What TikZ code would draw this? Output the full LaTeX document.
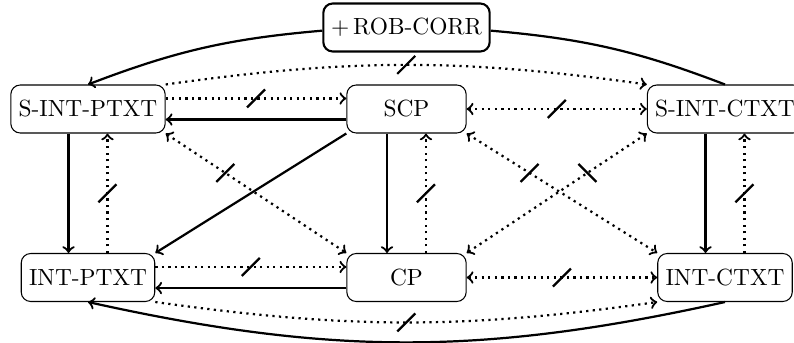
\documentclass[tikz,border=0pt]{standalone}
\usetikzlibrary{calc}
\newcommand\cutfw[1]{\draw[cutmark] ($(#1)+(-9,9)$) -- ($(#1)+(9,-9)$);}
\newcommand\cutbw[1]{\draw[cutmark] ($(#1)+(-9,-9)$) -- ($(#1)+(9,9)$);}
\begin{document}
\begin{tikzpicture}[x=0.4274pt,y=-0.4274pt,
  box/.style={draw, line width=0.45pt, rounded corners=4pt, minimum height=20.5pt, inner sep=3.33pt},
  wide/.style={minimum width=51pt},
  lw/.style={line width=0.95pt},
  dots/.style={lw, dash pattern=on \pgflinewidth off 1.85pt},
  conn/.style={lw,->},
  plain/.style={lw},
  dconn/.style={dots,->},
  ddconn/.style={dots,<->},
  cutmark/.style={lw,solid}]
\useasboundingbox (0,0) rectangle (794,343);
% nodes
\node[box,line width=0.9pt] (rob) at (406.5,27.5) {$+$\,ROB-CORR};
\node[box] (sptxt) at (88,109) {S-INT-PTXT};
\node[box,wide] (scp) at (406.5,109) {SCP};
\node[box] (sctxt) at (725,109) {S-INT-CTXT};
\node[box] (iptxt) at (88,277.5) {INT-PTXT};
\node[box,wide] (cp) at (406.5,277.5) {CP};
\node[box] (ictxt) at (725,277.5) {INT-CTXT};
% top curves
\draw[conn] (rob) to[bend right=8] (sptxt.north);
\draw[plain] (rob) to[bend left=8] (sctxt.north);
\draw[dconn] (sptxt.north east) to[bend left=8] coordinate[pos=.5] (c1) (sctxt.north west);
\cutfw{c1}
% top row
\draw[dconn] ([yshift=4.5pt]sptxt.east) -- coordinate[pos=.5] (c2) ([yshift=4.5pt]scp.west);
\cutfw{c2}
\draw[conn] ([yshift=-4.5pt]scp.west) -- ([yshift=-4.5pt]sptxt.east);
\draw[ddconn] (scp.east) -- coordinate[pos=.5] (c3) (sctxt.west);
\cutfw{c3}
% verticals
\draw[conn] ([xshift=-8.33pt]sptxt.south) -- ([xshift=-8.33pt]iptxt.north);
\draw[dconn] ([xshift=8.33pt]iptxt.north) -- coordinate[pos=.5] (c4) ([xshift=8.33pt]sptxt.south);
\cutfw{c4}
\draw[conn] ([xshift=-8.33pt]scp.south) -- ([xshift=-8.33pt]cp.north);
\draw[dconn] ([xshift=8.33pt]cp.north) -- coordinate[pos=.5] (c5) ([xshift=8.33pt]scp.south);
\cutfw{c5}
\draw[conn] ([xshift=-8.33pt]sctxt.south) -- ([xshift=-8.33pt]ictxt.north);
\draw[dconn] ([xshift=8.33pt]ictxt.north) -- coordinate[pos=.5] (c6) ([xshift=8.33pt]sctxt.south);
\cutfw{c6}
% bottom row
\draw[dconn] ([yshift=4.5pt]iptxt.east) -- coordinate[pos=.5] (c7) ([yshift=4.5pt]cp.west);
\cutfw{c7}
\draw[conn] ([yshift=-4.5pt]cp.west) -- ([yshift=-4.5pt]iptxt.east);
\draw[ddconn] (cp.east) -- coordinate[pos=.5] (c8) (ictxt.west);
\cutfw{c8}
% diagonals
\draw[conn] (scp.south west) -- (iptxt.north east);
\draw[ddconn] (sptxt.south east) -- coordinate[pos=.33] (c9) (cp.north west);
\cutfw{c9}
\draw[ddconn] (scp.south east) -- coordinate[pos=.33] (c10) (ictxt.north west);
\cutfw{c10}
\draw[ddconn] (sctxt.south west) -- coordinate[pos=.33] (c11) (cp.north east);
\cutbw{c11}
% bottom curves
\draw[conn] (ictxt.south) to[bend left=12.5] (iptxt.south);
\draw[dconn] (iptxt.south east) to[bend right=8] coordinate[pos=.5] (c12) (ictxt.south west);
\cutfw{c12}
\end{tikzpicture}
\end{document}
